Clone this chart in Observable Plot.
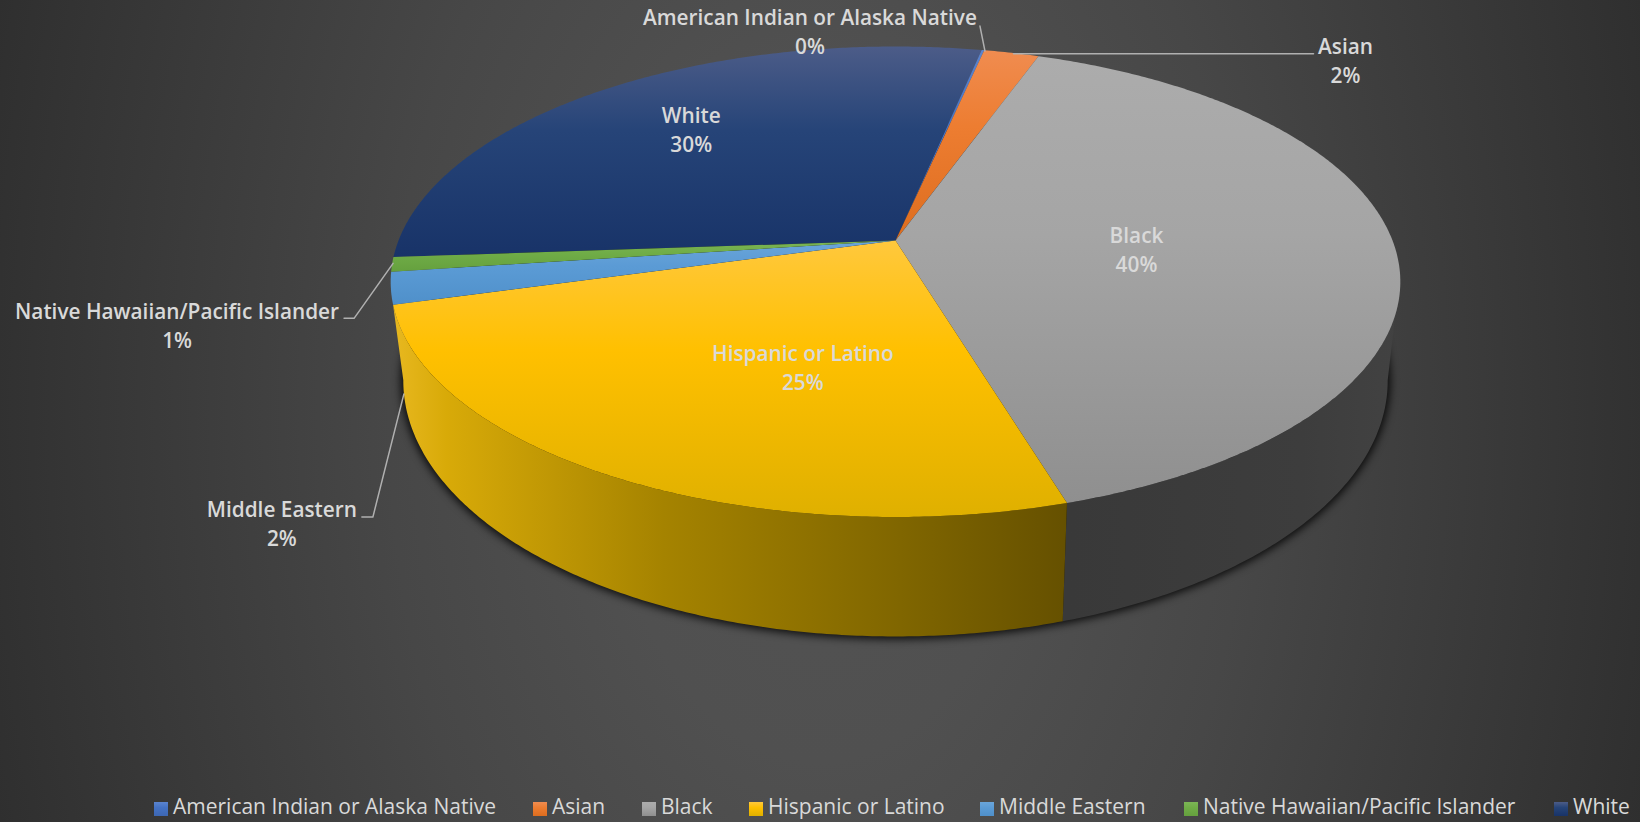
<!DOCTYPE html>
<html>
<head>
<meta charset="utf-8">
<script src="https://cdn.jsdelivr.net/npm/d3@7"></script>
<script src="https://cdn.jsdelivr.net/npm/@observablehq/plot@0.6"></script>
<style>
html,body{margin:0;padding:0;width:1640px;height:822px;overflow:hidden;
background:radial-gradient(ellipse 860px 1400px at 50% 50%,#535353 0%,#505050 25%,#474747 50%,#2f2f2f 100%);}
#chart svg{display:block;background:transparent;}
#legend{position:absolute;left:0;right:0;top:790px;height:32px;font:400 21px "Open Sans",sans-serif;color:#d9d9d9;}
#legend .item{position:absolute;top:0;white-space:nowrap;line-height:32px;}
#legend .sw{position:absolute;top:12px;left:0;width:14px;height:14px;}
#legend .tx{position:absolute;left:19px;top:0;}
</style>
</head>
<body>
<div id="chart"></div>
<div id="legend"></div>
<script>
// ---- data ----
const categories = ["American Indian or Alaska Native","Asian","Black","Hispanic or Latino","Middle Eastern","Native Hawaiian/Pacific Islander","White"];
const shares = [0.1, 2.1, 40.2, 25.49, 2.2, 1, 29.6];
const baseColors = ["#4472c4","#ed7d31","#a5a5a5","#ffc000","#5b9bd5","#70ad47","#264478"];
const topColors = ["#5b84cf","#f08c50","#acacac","#ffc83d","#6aa5da","#7cb556","#4c5c88"];
const lowColors = ["#3d67b3","#dd6d1f","#8f8f8f","#dfb000","#4f90ca","#65a03e","#183368"];
const legendSwatchLeft = [154,533,642,749,980,1184,1554];

// ---- layout, not data: pie geometry and label offsets ----
const W = 1640, H = 790, firstAngle = 11.72;
const disc = {cx:895, cy:240, R:497, S:228, k:0.1753};
const wall = {cx:895, cy:380, sx:0.975, sy:1.087, ecy:281, ecx:895};
const wallRimStart = 108, wallLowStart = 100, wallLowEnd = 260;
const innerRadius = [0,0,0.5,0.6,0,0,0.68];
const labelOffset = [[-173,-16],[334,10],[-8,8],[66,-3],[-109,238],[-215,63],[0,-2]];
const leaderOffset = [
  [[2,1],[-3,-24]],
  [[2,1],[302,1]],
  null, null,
  [[13,106],[-18,229],[-29,229]],
  [[1,-1],[-38,54],[-48,54]],
  null];

// ---- geometry ----
const rad = d => d*Math.PI/180;
function rimPoint(theta,r=1){
  const u=r*Math.sin(rad(theta)), v=-r*Math.cos(rad(theta)), d=1-disc.k*v;
  return [disc.cx+disc.R*u/d, disc.cy+disc.S*v/d];
}
function lowPoint(theta){
  const [x,y]=rimPoint(theta);
  return [wall.cx+(x-wall.ecx)*wall.sx, wall.cy+(y-wall.ecy)*wall.sy];
}
const unit = 360/d3.sum(shares);
let acc = firstAngle;
const slices = categories.map((name,i)=>{
  const a0=acc, a1=acc+shares[i]*unit; acc=a1;
  return {name,i,a0,a1,mid:(a0+a1)/2,value:shares[i]};
});
const steps=(a0,a1)=>{const n=Math.max(2,Math.ceil((a1-a0)*2));return d3.range(n+1).map(j=>a0+(a1-a0)*j/n);};
const xy = p => ({x:p[0],y:p[1]});
const facePts = s => [[disc.cx,disc.cy],...steps(s.a0,s.a1).map(t=>rimPoint(t))].map(xy);
const wallPts = (rim0,rim1,low0,low1) => [...steps(rim0,rim1).map(t=>rimPoint(t)),...steps(low0,low1).reverse().map(t=>lowPoint(t))].map(xy);
const shadowPts = steps(0,360).map(t=>lowPoint(t)).map(xy);

const labels = slices.map(s=>{
  const a = rimPoint(s.mid, innerRadius[s.i]||1), o=labelOffset[s.i];
  return {x:a[0]+o[0], y:a[1]+o[1], text:`${s.name}\n${Math.round(s.value)}%`};
});
const leaders = slices.flatMap(s=>{
  const off=leaderOffset[s.i]; if(!off) return [];
  const a=rimPoint(s.mid);
  return off.map(o=>({x:a[0]+o[0],y:a[1]+o[1],name:s.name}));
});

// ---- gradients ----
function defs(){
  const g=document.createElementNS("http://www.w3.org/2000/svg","g");
  g.innerHTML = `<defs>`+
   categories.map((c,i)=>`<linearGradient id="face${i}" x1="0" y1="0" x2="0" y2="1">
     <stop offset="0" stop-color="${topColors[i]}"/><stop offset="0.4" stop-color="${baseColors[i]}"/><stop offset="1" stop-color="${lowColors[i]}"/></linearGradient>`).join("")+
   `<linearGradient id="wallY" gradientUnits="userSpaceOnUse" x1="392" y1="0" x2="1069" y2="0">
     <stop offset="0" stop-color="#e8b820"/><stop offset="0.08" stop-color="#d8aa08"/><stop offset="0.4" stop-color="#a58300"/><stop offset="0.75" stop-color="#806600"/><stop offset="1" stop-color="#655000"/></linearGradient>
    <linearGradient id="wallG" gradientUnits="userSpaceOnUse" x1="1069" y1="0" x2="1400" y2="0">
     <stop offset="0" stop-color="#393939"/><stop offset="0.7" stop-color="#3d3d3d"/><stop offset="1" stop-color="#424242"/></linearGradient></defs>`;
  return g;
}
const blur = (px) => (i,s,v,d,c,next)=>{const g=next(i,s,v,d,c); g.style.filter=`blur(${px}px)`; return g;};
const poly = (pts,fill) => Plot.line(pts,{x:"x",y:"y",fill,stroke:"none",curve:"linear-closed"});

const black = slices[2], hispanic = slices[3];
const plot = Plot.plot({
  width:W,height:H,margin:0,
  style:{background:"transparent",overflow:"visible"},
  x:{domain:[0,W],range:[0,W],axis:null},
  y:{domain:[0,H],range:[0,H],axis:null},
  marks:[
    defs,
    Plot.line(shadowPts,{x:"x",y:"y",fill:"#000",stroke:"#000",strokeWidth:5,fillOpacity:0.8,strokeOpacity:0.8,curve:"linear-closed",render:blur(4)}),
    poly(wallPts(wallRimStart,black.a1,wallLowStart,black.a1),"url(#wallG)"),
    poly(wallPts(hispanic.a0,hispanic.a1,hispanic.a0,wallLowEnd),"url(#wallY)"),
    ...[6,0,1,2,3,4,5].map(i=>poly(facePts(slices[i]),`url(#face${i})`)),
    ...slices.filter(s=>leaderOffset[s.i]).map(s=>Plot.line(leaders.filter(l=>l.name===s.name),{x:"x",y:"y",stroke:"#b0b0b0",strokeWidth:1.5,curve:"linear"})),
    Plot.text(labels,{x:"x",y:"y",dy:-3.5,text:"text",fill:"#d9d9d9",fontSize:20.8,fontWeight:600,fontFamily:"Open Sans",lineHeight:1.395,textAnchor:"middle",lineAnchor:"middle"})
  ]
});
document.getElementById("chart").appendChild(plot);

// ---- legend ----
const legend=document.getElementById("legend");
categories.forEach((c,i)=>{
  const it=document.createElement("div");it.className="item";it.style.left=legendSwatchLeft[i]+"px";
  it.innerHTML=`<span class="sw" style="background:linear-gradient(${topColors[i]},${baseColors[i]} 40%,${lowColors[i]})"></span><span class="tx">${c}</span>`;
  legend.appendChild(it);
});
</script>
</body>
</html>
